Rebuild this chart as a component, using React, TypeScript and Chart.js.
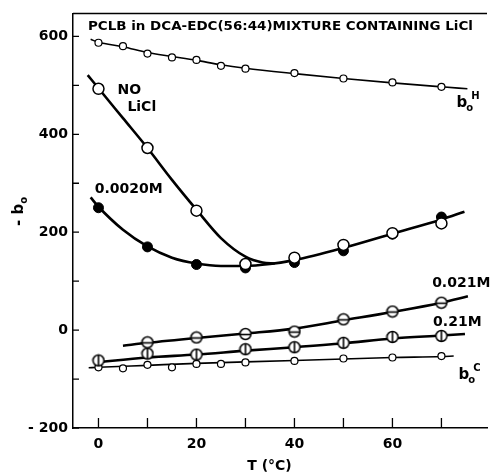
import React, { useEffect, useRef } from 'react';
import { Chart, registerables } from 'chart.js';

Chart.register(...registerables);

// ---- measured data (T in °C, values of -b0) ----
const temps = [0, 10, 20, 30, 40, 50, 60, 70];
const bHTemps = [0, 5, 10, 15, 20, 25, 30, 40, 50, 60, 70];
const bHValues = [587, 580, 565, 557, 552, 540, 534, 525, 514, 506, 497];
const noLiClValues = [493, 372, 244, 135, 148, 174, 198, 218];
const m0020Values = [250, 170, 134, 127, 138, 162, 196, 231];
const m021Temps = [10, 20, 30, 40, 50, 60, 70];
const m021Values = [-25, -15, -8, -3, 22, 38, 56];
const m21Values = [-62, -48, -50, -39, -35, -26, -14, -12];
const bCTemps = [0, 5, 10, 15, 20, 25, 30, 40, 50, 60, 70];
const bCValues = [-76, -78, -71, -76, -69, -69, -66, -63, -58, -56, -53];

// ---- hand-drawn fit curves ----
const bHCurveT = [-1.6, 0, 5, 10, 15, 20, 25, 30, 40, 50, 60, 70, 75.3];
const bHCurveV = [594, 588, 579, 567, 559, 551, 542, 535, 524, 514, 505, 497, 493];
const noLiClCurveT = [-2.2, 0, 5, 10, 15, 20, 25, 30, 33.5, 36];
const noLiClCurveV = [521, 494, 433, 372, 307, 246, 188, 150, 138, 136];
const m0020CurveT = [-1.6, 0, 5, 10, 15, 20, 25, 30, 35, 40, 50, 60, 70, 74.7];
const m0020CurveV = [271, 252, 205, 171, 148, 136, 131, 131, 135, 143, 168, 197, 226, 242];
const m021CurveT = [5, 10, 20, 30, 40, 50, 60, 70, 75.4];
const m021CurveV = [-32, -26, -16, -7, 3, 20, 37, 56, 69];
const m21CurveT = [-0.7, 10, 20, 30, 40, 50, 60, 70, 74.8];
const m21CurveV = [-66, -56, -50, -42, -35, -27, -17, -11, -8];
const bCCurveT = [-2, 0, 10, 20, 30, 40, 50, 60, 70, 72.5];
const bCCurveV = [-77, -76, -72, -68, -65, -62, -59, -56, -54, -53];

// ---- axis ticks ----
const xTickValues = [0, 10, 20, 30, 40, 50, 60, 70];
const yTickValues = [-200, -100, 0, 100, 200, 300, 400, 500, 600];

const titleText = 'PCLB in DCA-EDC(56:44)MIXTURE CONTAINING LiCl';

const pts = (xs: number[], ys: number[]) => xs.map((x, i) => ({ x, y: ys[i] }));

function makeMarker(kind: 'h' | 'v'): HTMLCanvasElement {
  const c = document.createElement('canvas');
  c.width = 14;
  c.height = 14;
  const g = c.getContext('2d')!;
  g.fillStyle = '#fff';
  g.strokeStyle = '#000';
  g.lineWidth = 1.5;
  g.beginPath();
  g.arc(7, 7, 5.5, 0, Math.PI * 2);
  g.fill();
  g.stroke();
  g.lineWidth = 1.6;
  g.beginPath();
  if (kind === 'h') {
    g.moveTo(1.5, 7.5);
    g.lineTo(12.5, 7.5);
  } else {
    g.moveTo(7, 1.5);
    g.lineTo(7, 12.5);
  }
  g.stroke();
  return c;
}

const FONT = '"DejaVu Sans", sans-serif';

const annotPlugin = {
  id: 'annot',
  afterDraw(chart: any) {
    const { ctx, chartArea: a, scales } = chart;
    const xs = scales.x;
    const ys = scales.y;
    const X = (v: number) => xs.getPixelForValue(v);
    const Y = (v: number) => ys.getPixelForValue(v);
    ctx.save();
    ctx.strokeStyle = '#000';
    ctx.fillStyle = '#000';
    ctx.lineWidth = 1.5;
    // top frame
    ctx.beginPath();
    ctx.moveTo(a.left, a.top);
    ctx.lineTo(a.right, a.top);
    ctx.stroke();
    // inward tick marks
    ctx.lineWidth = 1.3;
    ctx.beginPath();
    for (const v of yTickValues) {
      const py = Y(v);
      ctx.moveTo(a.left, py);
      ctx.lineTo(a.left + 6, py);
    }
    for (const t of xTickValues) {
      const px = X(t);
      ctx.moveTo(px, a.bottom);
      ctx.lineTo(px, a.bottom - 10);
    }
    ctx.stroke();

    // title
    ctx.font = 'bold 13px ' + FONT;
    ctx.textBaseline = 'middle';
    ctx.textAlign = 'left';
    const w = ctx.measureText(titleText).width;
    ctx.save();
    ctx.translate(X(-2.15), Y(620));
    ctx.scale(385 / w, 1);
    ctx.fillText(titleText, 0, 0);
    ctx.restore();

    // series labels
    ctx.font = 'bold 14px ' + FONT;
    ctx.fillText('NO', X(3.9), Y(490));
    ctx.fillText('LiCl', X(5.9), Y(455));
    ctx.fillText('0.0020M', X(-0.75), Y(287));
    ctx.fillText('0.021M', X(68.1), Y(95));
    ctx.fillText('0.21M', X(68.3), Y(16));

    const subSup = (px: number, py: number, sup: string) => {
      ctx.textBaseline = 'alphabetic';
      ctx.font = 'bold 15px ' + FONT;
      ctx.fillText('b', px, py);
      const bw = ctx.measureText('b').width;
      ctx.font = 'bold 10px ' + FONT;
      ctx.fillText('o', px + bw - 1, py + 4);
      ctx.fillText(sup, px + bw + 4, py - 8);
    };
    subSup(X(73.5), Y(-99), 'C');
    subSup(X(73.1), Y(455), 'H');

    // axis titles
    ctx.textBaseline = 'middle';
    ctx.textAlign = 'center';
    ctx.font = 'bold 14px ' + FONT;
    ctx.fillText('T (°C)', X(34.9), Y(-278));

    ctx.save();
    ctx.translate(X(-16.4), Y(620 - (211 - 25) / 0.49125));
    ctx.rotate(-Math.PI / 2);
    ctx.textAlign = 'left';
    ctx.textBaseline = 'alphabetic';
    ctx.font = 'bold 15px ' + FONT;
    const s = '- b';
    const sw = ctx.measureText(s).width;
    ctx.fillText(s, -sw / 2 - 3, 5);
    ctx.font = 'bold 10px ' + FONT;
    ctx.fillText('o', sw / 2 - 3, 9);
    ctx.restore();

    ctx.restore();
  },
};

export default function App() {
  const ref = useRef<HTMLCanvasElement>(null);
  useEffect(() => {
    document.body.style.margin = '0';
    const hMark = makeMarker('h');
    const vMark = makeMarker('v');
    const curve = (xs: number[], ys: number[], width: number) => ({
      type: 'line' as const,
      data: pts(xs, ys),
      borderColor: '#000',
      borderWidth: width,
      pointRadius: 0,
      cubicInterpolationMode: 'monotone' as const,
      fill: false,
      order: 5,
    });
    const chart = new Chart(ref.current!, {
      type: 'scatter',
      data: {
        datasets: [
          {
            label: 'NO LiCl',
            data: pts(temps, noLiClValues),
            pointStyle: 'circle',
            pointRadius: 5.5,
            backgroundColor: '#fff',
            borderColor: '#000',
            borderWidth: 1.5,
            showLine: false,
            order: 0,
          },
          {
            label: '0.0020M',
            data: pts(temps, m0020Values),
            pointStyle: 'circle',
            pointRadius: 5,
            backgroundColor: '#000',
            borderColor: '#000',
            borderWidth: 1,
            showLine: false,
            order: 1,
          },
          {
            label: '0.021M',
            data: pts(m021Temps, m021Values),
            pointStyle: hMark,
            pointRadius: 6,
            showLine: false,
            order: 1,
          },
          {
            label: '0.21M',
            data: pts(temps, m21Values),
            pointStyle: vMark,
            pointRadius: 6,
            showLine: false,
            order: 1,
          },
          {
            label: 'bH',
            data: pts(bHTemps, bHValues),
            pointStyle: 'circle',
            pointRadius: 3.5,
            backgroundColor: '#fff',
            borderColor: '#000',
            borderWidth: 1.2,
            showLine: false,
            order: 1,
          },
          {
            label: 'bC',
            data: pts(bCTemps, bCValues),
            pointStyle: 'circle',
            pointRadius: 3.5,
            backgroundColor: '#fff',
            borderColor: '#000',
            borderWidth: 1.2,
            showLine: false,
            order: 1,
          },
          curve(bHCurveT, bHCurveV, 1.6),
          curve(noLiClCurveT, noLiClCurveV, 2.6),
          curve(m0020CurveT, m0020CurveV, 2.6),
          curve(m021CurveT, m021CurveV, 2.6),
          curve(m21CurveT, m21CurveV, 2.6),
          curve(bCCurveT, bCCurveV, 1.6),
        ] as any,
      },
      options: {
        animation: false,
        responsive: false,
        devicePixelRatio: 1,
        layout: { padding: { top: 12, right: 1, left: 0, bottom: 0 } },
        plugins: { legend: { display: false }, tooltip: { enabled: false }, title: { display: false } },
        scales: {
          x: {
            type: 'linear',
            min: -5.2,
            max: 79.3,
            grid: { display: false, drawTicks: false },
            border: { display: true, color: '#000', width: 1.5 },
            ticks: {
              stepSize: 10,
              includeBounds: false,
              autoSkip: false,
              maxRotation: 0,
              padding: 8,
              color: '#000',
              font: { family: FONT, size: 14, weight: 'bold' },
              callback: (v: any) => (Number(v) % 20 === 0 ? String(v) : ''),
            },
            afterFit: (s: any) => {
              s.height = 44;
            },
          },
          y: {
            type: 'linear',
            min: -200,
            max: 647,
            grid: { display: false, drawTicks: false },
            border: { display: true, color: '#000', width: 1.5 },
            ticks: {
              stepSize: 100,
              includeBounds: false,
              autoSkip: false,
              padding: 5,
              color: '#000',
              font: { family: FONT, size: 14, weight: 'bold' },
              callback: (v: any) => {
                const n = Number(v);
                if (n % 200 !== 0) return '';
                return n < 0 ? '- ' + Math.abs(n) : String(n);
              },
            },
            afterFit: (s: any) => {
              s.width = 73;
            },
          },
        },
      } as any,
      plugins: [annotPlugin],
    });
    return () => chart.destroy();
  }, []);
  return <canvas ref={ref} width={494} height={472} style={{ display: 'block' }} />;
}
